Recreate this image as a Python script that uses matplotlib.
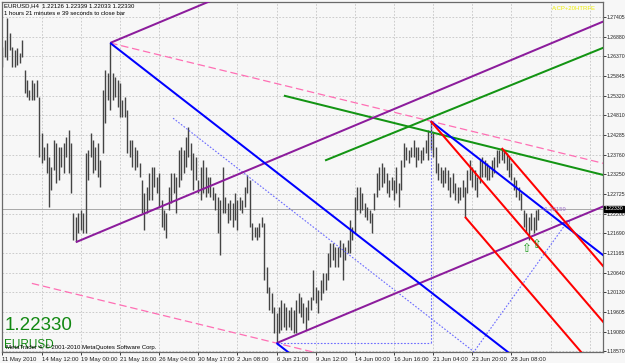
import numpy as np
import matplotlib.pyplot as plt
import matplotlib.transforms as mtransforms

plt.rcParams['font.family'] = ['Liberation Sans', 'DejaVu Sans']

# EURUSD H4 bars, price * 10000
high_pips = [
    12661, 12680, 12738, 12698, 12661, 12653, 12659, 12645, 12680, 12600,
    12574, 12547, 12574, 12566, 12574, 12529, 12434, 12397, 12407, 12370,
    12344, 12415, 12407, 12397, 12397, 12407, 12423, 12442, 12407, 12222,
    12212, 12222, 12230, 12222, 12381, 12389, 12434, 12415, 12397, 12407,
    12362, 12547, 12600, 12592, 12672, 12592, 12582, 12574, 12566, 12521,
    12529, 12495, 12415, 12415, 12397, 12389, 12354, 12309, 12275, 12291,
    12328, 12344, 12344, 12317, 12328, 12256, 12230, 12222, 12291, 12328,
    12328, 12317, 12389, 12397, 12389, 12423, 12450, 12407, 12381, 12370,
    12309, 12344, 12362, 12344, 12317, 12317, 12291, 12275, 12264, 12256,
    12344, 12264, 12249, 12256, 12249, 12275, 12256, 12264, 12256, 12291,
    12323, 12309, 12196, 12185, 12185, 12196, 12212, 12196, 12079, 12026,
    12010, 11973, 11958, 11973, 11992, 11984, 11973, 11966, 11973, 11966,
    11992, 12010, 11999, 11984, 11973, 11992, 11999, 12071, 12026, 12018,
    12045, 12063, 12063, 12116, 12143, 12143, 12132, 12132, 12151, 12143,
    12132, 12151, 12204, 12185, 12264, 12291, 12291, 12275, 12249, 12238,
    12230, 12222, 12275, 12328, 12344, 12354, 12344, 12328, 12309, 12317,
    12309, 12344, 12301, 12362, 12407, 12397, 12389, 12397, 12415, 12397,
    12397, 12389, 12397, 12415, 12442, 12465, 12434, 12397, 12354, 12344,
    12336, 12344, 12336, 12317, 12328, 12301, 12291, 12291, 12309, 12291,
    12336, 12362, 12344, 12336, 12317, 12362, 12370, 12362, 12354, 12344,
    12362, 12370, 12389, 12390, 12394, 12389, 12381, 12370, 12354, 12317,
    12309, 12291, 12275, 12230, 12222, 12212, 12222, 12212, 12230, 12234,
]
low_pips = [
    12608, 12635, 12627, 12653, 12608, 12608, 12614, 12619, 12635, 12540,
    12529, 12521, 12521, 12521, 12529, 12370, 12354, 12362, 12328, 12238,
    12283, 12336, 12301, 12309, 12344, 12328, 12370, 12328, 12275, 12151,
    12145, 12169, 12177, 12169, 12169, 12309, 12370, 12328, 12336, 12317,
    12291, 12381, 12460, 12521, 12495, 12521, 12529, 12502, 12476, 12476,
    12476, 12381, 12370, 12344, 12336, 12344, 12317, 12222, 12177, 12222,
    12256, 12256, 12291, 12275, 12238, 12185, 12177, 12156, 12230, 12249,
    12275, 12222, 12291, 12309, 12328, 12344, 12370, 12336, 12283, 12309,
    12275, 12256, 12275, 12264, 12275, 12264, 12256, 12230, 12169, 12111,
    12222, 12222, 12196, 12204, 12185, 12204, 12177, 12230, 12222, 12238,
    12275, 12185, 12151, 12159, 12151, 12159, 12185, 12045, 12010, 11966,
    11958, 11905, 11878, 11905, 11913, 11921, 11913, 11921, 11913, 11905,
    11905, 11958, 11947, 11931, 11913, 11939, 11966, 11992, 11984, 11958,
    11992, 12010, 12018, 12045, 12079, 12098, 12079, 12079, 12106, 12045,
    12098, 12116, 12116, 12151, 12169, 12230, 12222, 12230, 12212, 12204,
    12196, 12169, 12230, 12264, 12283, 12291, 12301, 12275, 12264, 12283,
    12256, 12275, 12238, 12283, 12344, 12362, 12354, 12370, 12370, 12344,
    12362, 12354, 12362, 12381, 12362, 12389, 12370, 12328, 12309, 12301,
    12291, 12301, 12283, 12264, 12275, 12256, 12249, 12256, 12264, 12212,
    12275, 12309, 12291, 12283, 12264, 12301, 12317, 12317, 12309, 12309,
    12317, 12328, 12344, 12354, 12362, 12354, 12336, 12317, 12309, 12283,
    12264, 12256, 12230, 12185, 12169, 12151, 12177, 12169, 12177, 12203,
]
last_ohlc = [1.22126, 1.22339, 1.22033, 1.22330]

time_labels = ['11 May 2010', '14 May 12:00', '19 May 00:00', '21 May 16:00',
               '26 May 04:00', '30 May 17:00', '2 Jun 08:00', '6 Jun 21:00',
               '9 Jun 12:00', '14 Jun 00:00', '16 Jun 16:00', '21 Jun 04:00',
               '23 Jun 20:00', '28 Jun 08:00']
price_ticks = [1.27405, 1.26880, 1.26370, 1.25845, 1.25320, 1.24810, 1.24285,
               1.23760, 1.23250, 1.22725, 1.22200, 1.21690, 1.21165, 1.20640,
               1.20130, 1.19605, 1.19080, 1.18570]

# pivot bars used by the drawn objects
pivot_a, pivot_b, pivot_c = 30, 44, 112
pivot_d, pivot_e, pivot_f = 175, 189, 204
pink_lower_start = 12
green_down = [(115.4, 1.2532), (245.4, 1.2323)]
green_up = [(132.2, 1.2362), (245.4, 1.2659)]
dots_1 = [(69.7, 1.2473), (192.7, 1.1855)]
dots_2 = [(192.3, 1.1852), (230.7, 1.2198)]
up_arrows = [(214.0, 1.2128), (218.0, 1.2138)]

high = np.array(high_pips) / 10000
low = np.array(low_pips) / 10000
idx = np.arange(len(high))
x_end = 260

fig = plt.figure(figsize=(6.25, 3.63), dpi=100)
fig.patch.set_facecolor('#f7f7f7')
ax = fig.add_axes([2 / 625, 11 / 363, 601 / 625, 350 / 363])
ax.set_facecolor('#f7f7f7')

grid_kw = dict(color='#c4c4c4', lw=0.6, ls=(0, (2, 2)), zorder=0)
for p in price_ticks:
    ax.axhline(p, **grid_kw)
for k in range(len(time_labels) + 2):
    ax.axvline(16 * k, **grid_kw)

ax.axhline(last_ohlc[3], color='#a8a8a8', lw=0.7, zorder=1)

ax.vlines(idx, low, high, color='#444444', lw=1.0, zorder=2)

def pt(i, side):
    return (i, high[i] if side == 'h' else low[i])

A, B, C = pt(pivot_a, 'l'), pt(pivot_b, 'h'), pt(pivot_c, 'l')
D, E, F = pt(pivot_d, 'h'), pt(pivot_e, 'l'), pt(pivot_f, 'h')

def fork(h, p1, p2, color):
    mx, my = (p1[0] + p2[0]) / 2, (p1[1] + p2[1]) / 2
    s = (my - h[1]) / (mx - h[0])
    for x0, y0 in (h, p1, p2):
        ax.plot([x0, x_end], [y0, y0 + s * (x_end - x0)], color=color,
                lw=1.45, zorder=4, solid_capstyle='butt')

fork(A, B, C, '#8c1c9c')
fork(B, C, D, '#0000ff')
fork(D, E, F, '#ff0000')

# pink channel through B and D, parallel copy through C
s_pink = (D[1] - B[1]) / (D[0] - B[0])
ax.plot([B[0], x_end], [B[1], B[1] + s_pink * (x_end - B[0])],
        color='#ff6fb4', lw=0.9, ls=(0, (6, 3)), zorder=3)
y0 = C[1] + s_pink * (pink_lower_start - C[0])
ax.plot([pink_lower_start, x_end], [y0, y0 + s_pink * (x_end - pink_lower_start)],
        color='#ff6fb4', lw=0.9, ls=(0, (6, 3)), zorder=3)

for seg in (green_down, green_up):
    ax.plot([seg[0][0], seg[1][0]], [seg[0][1], seg[1][1]], color='#139413',
            lw=1.45, zorder=3)

dot_kw = dict(color='#6a6aff', lw=0.8, ls=(0, (1.5, 1.5)), zorder=3)
ax.plot([D[0], D[0]], [D[1], C[1]], **dot_kw)
ax.plot([C[0], D[0]], [C[1], C[1]], **dot_kw)
for seg in (dots_1, dots_2):
    ax.plot([seg[0][0], seg[1][0]], [seg[0][1], seg[1][1]], **dot_kw)
ax.plot(dots_2[1][0], dots_2[1][1], 'o', ms=3, mfc='none', mec='#9a9aff', mew=0.7, zorder=3)

for ax_i, ay in up_arrows:
    ax.text(ax_i, ay, '\u21e7', color='#1a9a1a', fontsize=8.5, ha='center', va='center',
            family=['DejaVu Sans'], zorder=5)
ax.text(220.5, 1.2231, '<1.22159', color='#a070c8', fontsize=4.2, va='center', zorder=5)

ax.set_xlim(-0.2, 245.4)
ax.set_ylim(1.18545, 1.27803)

ax.yaxis.tick_right()
ax.set_yticks(price_ticks)
ax.set_yticklabels([f'{p:.5f}' for p in price_ticks])
ax.set_xticks([16 * k for k in range(len(time_labels))])
ax.set_xticklabels(time_labels, ha='left')
ax.tick_params(axis='y', length=2, width=0.6, pad=0.6, labelsize=3.7, colors='#202020')
ax.tick_params(axis='x', length=2.5, width=0.6, pad=0.8, labelsize=4.3, colors='#202020')
for sp in ax.spines.values():
    sp.set_color('#6a6a6a')
    sp.set_linewidth(0.9)

# current price box on the price scale
tr = mtransforms.blended_transform_factory(ax.transAxes, ax.transData)
ax.text(1.003, last_ohlc[3], f'{last_ohlc[3]:.5f}', transform=tr, color='white',
        fontsize=3.7, va='center', ha='left', zorder=6,
        bbox=dict(boxstyle='square,pad=0.12', fc='black', ec='black'))

ax.text(0.003, 0.997, 'EURUSD,H4  ' + ' '.join(f'{v:.5f}' for v in last_ohlc),
        transform=ax.transAxes, fontsize=4.3, va='top', color='black')
ax.text(0.003, 0.975, '1 hours 21 minutes e 39 seconds to close bar',
        transform=ax.transAxes, fontsize=4.3, va='top', color='black')
ax.text(0.915, 0.99, 'A:CP+20HTRFE', transform=ax.transAxes, fontsize=4.3,
        va='top', color='#eeee00')

ax.text(0.004, 0.063, f'{last_ohlc[3]:.5f}', transform=ax.transAxes, fontsize=13.5,
        va='baseline', color='#118811')
ax.text(0.004, 0.011, 'EURUSD', transform=ax.transAxes, fontsize=8.5,
        va='baseline', color='#118811')
ax.text(0.006, 0.008, 'MetaTrader 4, \u00a9 2001-2010 MetaQuotes Software Corp.',
        transform=ax.transAxes, fontsize=4.3, va='baseline', color='black')

fig.savefig('out.png', dpi=100, facecolor=fig.get_facecolor())
